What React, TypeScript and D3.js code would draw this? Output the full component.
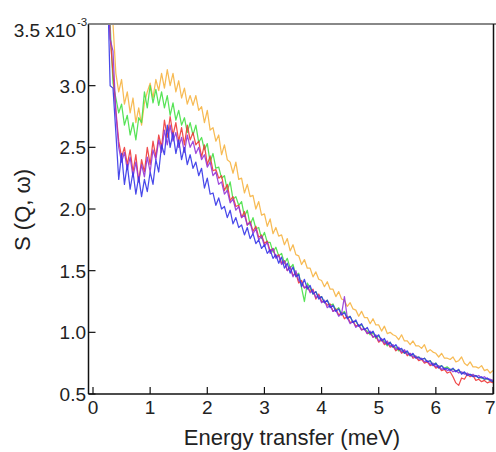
import React, { useRef, useEffect } from "react";
import * as d3 from "d3";

// energy grid (meV)
const energy = [
  0.25, 0.3, 0.35, 0.4, 0.45, 0.5, 0.55, 0.6, 0.65, 0.7,
  0.75, 0.8, 0.85, 0.9, 0.95, 1.0, 1.05, 1.1, 1.15, 1.2,
  1.25, 1.3, 1.35, 1.4, 1.45, 1.5, 1.55, 1.6, 1.65, 1.7,
  1.75, 1.8, 1.85, 1.9, 1.95, 2.0, 2.05, 2.1, 2.15, 2.2,
  2.25, 2.3, 2.35, 2.4, 2.45, 2.5, 2.55, 2.6, 2.65, 2.7,
  2.75, 2.8, 2.85, 2.9, 2.95, 3.0, 3.05, 3.1, 3.15, 3.2,
  3.25, 3.3, 3.35, 3.4, 3.45, 3.5, 3.55, 3.6, 3.65, 3.7,
  3.75, 3.8, 3.85, 3.9, 3.95, 4.0, 4.05, 4.1, 4.15, 4.2,
  4.25, 4.3, 4.35, 4.4, 4.45, 4.5, 4.55, 4.6, 4.65, 4.7,
  4.75, 4.8, 4.85, 4.9, 4.95, 5.0, 5.05, 5.1, 5.15, 5.2,
  5.25, 5.3, 5.35, 5.4, 5.45, 5.5, 5.55, 5.6, 5.65, 5.7,
  5.75, 5.8, 5.85, 5.9, 5.95, 6.0, 6.05, 6.1, 6.15, 6.2,
  6.25, 6.3, 6.35, 6.4, 6.45, 6.5, 6.55, 6.6, 6.65, 6.7,
  6.75, 6.8, 6.85, 6.9, 6.95, 7.0,
];

// S(Q,w) in units of 1e-3
const orange = [
  4.3, 4.0, 3.5, 3.1, 2.95, 3.05, 2.85, 2.95, 2.78, 2.9,
  2.7, 2.82, 2.68, 2.86, 2.95, 3.02, 2.9, 3.05, 2.96, 3.1,
  2.98, 3.13, 3.0, 3.1, 2.95, 3.04, 2.9, 2.98, 2.85, 2.92,
  2.84, 2.92, 2.8, 2.83, 2.7, 2.8, 2.64, 2.66, 2.55, 2.6,
  2.44, 2.52, 2.4, 2.38, 2.29, 2.38, 2.24, 2.25, 2.13, 2.2,
  2.1, 2.11, 2.0, 2.06, 1.95, 1.96, 1.86, 1.92, 1.8, 1.85,
  1.78, 1.79, 1.71, 1.76, 1.66, 1.71, 1.63, 1.62, 1.55, 1.59,
  1.52, 1.52, 1.45, 1.49, 1.43, 1.42, 1.37, 1.41, 1.35, 1.35,
  1.29, 1.33, 1.27, 1.26, 1.21, 1.24, 1.19, 1.18, 1.13, 1.17,
  1.12, 1.12, 1.07, 1.11, 1.06, 1.06, 1.01, 1.05, 0.99, 1.0,
  0.98, 0.97, 0.94, 0.98, 0.93, 0.93, 0.9, 0.93, 0.89, 0.89,
  0.87, 0.9, 0.84, 0.86, 0.84, 0.83, 0.8, 0.83, 0.79, 0.79,
  0.78, 0.8, 0.76, 0.77, 0.8, 0.75, 0.73, 0.76, 0.72, 0.72,
  0.71, 0.73, 0.69, 0.7, 0.67, 0.69,
];

const green = [
  4.0, 3.5, 3.02, 2.9, 2.78, 2.85, 2.68, 2.76, 2.6, 2.7,
  2.56, 2.74, 2.7, 2.95, 2.82, 3.0, 2.86, 2.97, 2.84, 2.95,
  2.82, 2.92, 2.76, 2.86, 2.72, 2.8, 2.68, 2.74, 2.62, 2.7,
  2.6, 2.68, 2.54, 2.58, 2.48, 2.53, 2.38, 2.45, 2.33, 2.34,
  2.25, 2.27, 2.15, 2.22, 2.08, 2.1, 2.03, 2.06, 1.94, 1.99,
  1.87, 1.93, 1.84, 1.85, 1.76, 1.81, 1.73, 1.73, 1.65, 1.69,
  1.62, 1.64, 1.56, 1.6, 1.52, 1.55, 1.46, 1.48, 1.36, 1.25,
  1.4, 1.36, 1.31, 1.33, 1.28, 1.29, 1.24, 1.26, 1.22, 1.23,
  1.18, 1.2, 1.15, 1.17, 1.12, 1.13, 1.08, 1.09, 1.05, 1.06,
  1.03, 1.01, 0.98, 1.0, 0.95, 0.97, 0.94, 0.93, 0.89, 0.92,
  0.88, 0.88, 0.85, 0.86, 0.83, 0.84, 0.81, 0.82, 0.8, 0.8,
  0.78, 0.79, 0.76, 0.77, 0.74, 0.75, 0.72, 0.73, 0.71, 0.72,
  0.7, 0.7, 0.69, 0.69, 0.67, 0.67, 0.66, 0.66, 0.65, 0.65,
  0.63, 0.63, 0.62, 0.62, 0.61, 0.6,
];

const red = [
  4.0, 3.4, 3.1, 2.8, 2.55, 2.42, 2.5, 2.36, 2.48, 2.3,
  2.44, 2.22, 2.4, 2.3, 2.5, 2.36, 2.55, 2.42, 2.6, 2.5,
  2.72, 2.58, 2.75, 2.6, 2.7, 2.55, 2.66, 2.52, 2.68, 2.56,
  2.62, 2.52, 2.55, 2.42, 2.52, 2.36, 2.43, 2.31, 2.32, 2.25,
  2.27, 2.15, 2.2, 2.07, 2.1, 2.02, 2.03, 1.93, 1.98, 1.87,
  1.9, 1.82, 1.86, 1.77, 1.79, 1.72, 1.74, 1.66, 1.68, 1.61,
  1.63, 1.56, 1.58, 1.5, 1.53, 1.46, 1.48, 1.4, 1.42, 1.36,
  1.37, 1.33, 1.35, 1.27, 1.31, 1.25, 1.25, 1.22, 1.23, 1.17,
  1.19, 1.14, 1.16, 1.11, 1.13, 1.08, 1.09, 1.05, 1.06, 1.02,
  1.03, 0.99, 1.0, 0.96, 0.97, 0.92, 0.94, 0.9, 0.92, 0.88,
  0.89, 0.85, 0.87, 0.83, 0.85, 0.81, 0.83, 0.79, 0.8, 0.77,
  0.78, 0.75, 0.76, 0.73, 0.74, 0.71, 0.72, 0.69, 0.7, 0.67,
  0.68, 0.64, 0.59, 0.57, 0.63, 0.62, 0.66, 0.64, 0.65, 0.61,
  0.62, 0.6, 0.61, 0.59, 0.6, 0.59,
];

const purple = [
  4.0, 3.38, 3.28, 2.78, 2.5, 2.38, 2.46, 2.32, 2.42, 2.26,
  2.38, 2.22, 2.36, 2.26, 2.42, 2.3, 2.48, 2.4, 2.56, 2.46,
  2.64, 2.52, 2.68, 2.55, 2.62, 2.5, 2.58, 2.46, 2.6, 2.5,
  2.55, 2.45, 2.5, 2.4, 2.44, 2.34, 2.38, 2.27, 2.3, 2.2,
  2.22, 2.12, 2.15, 2.05, 2.08, 1.99, 2.02, 1.93, 1.95, 1.87,
  1.89, 1.8, 1.84, 1.75, 1.78, 1.7, 1.73, 1.64, 1.68, 1.6,
  1.62, 1.55, 1.58, 1.5, 1.53, 1.45, 1.5, 1.42, 1.4, 1.36,
  1.38, 1.32, 1.34, 1.28, 1.3, 1.24, 1.26, 1.2, 1.22, 1.17,
  1.18, 1.13, 1.15, 1.29, 1.12, 1.07, 1.09, 1.04, 1.06, 1.02,
  1.03, 0.99, 1.01, 0.96, 0.98, 0.93, 0.95, 0.91, 0.93, 0.89,
  0.9, 0.86, 0.88, 0.84, 0.86, 0.82, 0.83, 0.8, 0.81, 0.78,
  0.79, 0.76, 0.77, 0.74, 0.75, 0.72, 0.73, 0.7, 0.71, 0.69,
  0.7, 0.68, 0.69, 0.67, 0.68, 0.66, 0.67, 0.65, 0.66, 0.64,
  0.65, 0.63, 0.64, 0.62, 0.62, 0.61,
];

const blue = [
  3.9, 3.0, 2.98, 2.62, 2.24, 2.45, 2.2, 2.36, 2.16, 2.3,
  2.12, 2.26, 2.1, 2.24, 2.14, 2.3, 2.2, 2.4, 2.3, 2.52,
  2.44, 2.68, 2.5, 2.62, 2.45, 2.56, 2.4, 2.5, 2.36, 2.44,
  2.33, 2.38, 2.27, 2.33, 2.17, 2.25, 2.12, 2.13, 2.03, 2.09,
  2.0, 2.02, 1.93, 1.99, 1.88, 1.93, 1.85, 1.87, 1.79, 1.85,
  1.76, 1.8, 1.72, 1.75, 1.68, 1.71, 1.64, 1.67, 1.6, 1.63,
  1.56, 1.61, 1.52, 1.56, 1.48, 1.53, 1.45, 1.47, 1.37, 1.43,
  1.35, 1.38, 1.31, 1.33, 1.27, 1.29, 1.24, 1.26, 1.2, 1.22,
  1.17, 1.19, 1.14, 1.16, 1.11, 1.13, 1.08, 1.1, 1.05, 1.07,
  1.02, 1.04, 0.99, 1.01, 0.96, 0.98, 0.93, 0.95, 0.9, 0.92,
  0.88, 0.9, 0.86, 0.87, 0.83, 0.85, 0.81, 0.83, 0.79, 0.8,
  0.78, 0.79, 0.76, 0.77, 0.73, 0.75, 0.71, 0.73, 0.7, 0.71,
  0.69, 0.71, 0.68, 0.7, 0.66, 0.68, 0.65, 0.66, 0.64, 0.65,
  0.63, 0.64, 0.62, 0.63, 0.61, 0.6,
];

const seriesList = [
  { name: "orange", values: orange, color: "#f6b443" },
  { name: "green", values: green, color: "#45e045" },
  { name: "red", values: red, color: "#ee3a3a" },
  { name: "purple", values: purple, color: "#9236d8" },
  { name: "blue", values: blue, color: "#3535e8" },
];

const xTicks = [0, 1, 2, 3, 4, 5, 6, 7];
const yTicks = [0.5, 1.0, 1.5, 2.0, 2.5, 3.0, 3.5];

const App = () => {
  const svgRef = useRef<SVGSVGElement>(null);

  useEffect(() => {
    const svg = d3.select(svgRef.current);
    svg.selectAll("*").remove();

    const width = 496;
    const height = 452;
    const left = 88.5;
    const right = 493.5;
    const top = 24;
    const bottom = 394;
    const font = "'Liberation Sans', Arial, sans-serif";

    const x = d3.scaleLinear().domain([0, 7]).range([93, 493]);
    const y = d3.scaleLinear().domain([0.5, 3.5]).range([bottom, top]);

    svg.attr("width", width).attr("height", height);

    svg.append("defs")
      .append("clipPath")
      .attr("id", "plot-clip")
      .append("rect")
      .attr("x", left)
      .attr("y", top)
      .attr("width", right - left)
      .attr("height", bottom - top);

    const line = d3.line<number>()
      .x((d, i) => x(energy[i]))
      .y(d => y(d));

    const plot = svg.append("g").attr("clip-path", "url(#plot-clip)");
    seriesList.forEach(s => {
      plot.append("path")
        .datum(s.values)
        .attr("fill", "none")
        .attr("stroke", s.color)
        .attr("stroke-width", 1.25)
        .attr("stroke-opacity", 0.9)
        .attr("stroke-linejoin", "round")
        .attr("d", line);
    });

    // frame
    svg.append("line")
      .attr("x1", left).attr("x2", width)
      .attr("y1", top).attr("y2", top)
      .attr("stroke", "#888").attr("stroke-width", 2);
    svg.append("line")
      .attr("x1", left).attr("x2", left)
      .attr("y1", top).attr("y2", bottom)
      .attr("stroke", "#111").attr("stroke-width", 1.5);
    svg.append("line")
      .attr("x1", right).attr("x2", right)
      .attr("y1", top).attr("y2", bottom)
      .attr("stroke", "#111").attr("stroke-width", 1.5);
    svg.append("line")
      .attr("x1", left).attr("x2", right)
      .attr("y1", bottom).attr("y2", bottom)
      .attr("stroke", "#111").attr("stroke-width", 1.5);

    // y axis: ticks point inward
    const yAxis = svg.append("g");
    yAxis.selectAll("line")
      .data(yTicks)
      .join("line")
      .attr("x1", left).attr("x2", left + 7)
      .attr("y1", d => y(d)).attr("y2", d => y(d))
      .attr("stroke", d => (d === 3.5 ? "#888" : "#111"))
      .attr("stroke-width", 1.2);
    yAxis.selectAll("text")
      .data(yTicks.filter(d => d !== 3.5))
      .join("text")
      .attr("x", 86)
      .attr("y", d => y(d) + 7)
      .attr("text-anchor", "end")
      .attr("font-family", font)
      .attr("font-size", 19)
      .attr("fill", "#222")
      .text(d => d.toFixed(1));
    yAxis.append("text")
      .attr("x", 76)
      .attr("y", 37)
      .attr("text-anchor", "end")
      .attr("font-family", font)
      .attr("font-size", 19)
      .attr("fill", "#222")
      .text("3.5 x10");
    yAxis.append("text")
      .attr("x", 77)
      .attr("y", 26)
      .attr("font-family", font)
      .attr("font-size", 11.5)
      .attr("fill", "#222")
      .text("-3");

    // x axis: ticks point inward
    const xAxis = svg.append("g");
    xAxis.selectAll("line")
      .data(xTicks)
      .join("line")
      .attr("x1", d => x(d)).attr("x2", d => x(d))
      .attr("y1", bottom - 7).attr("y2", bottom)
      .attr("stroke", "#111")
      .attr("stroke-width", 1.2);
    // last label kept inside the page edge
    xAxis.selectAll("text")
      .data(xTicks)
      .join("text")
      .attr("x", d => (d === 7 ? width - 0.5 : x(d)))
      .attr("y", 414)
      .attr("text-anchor", d => (d === 7 ? "end" : "middle"))
      .attr("font-family", font)
      .attr("font-size", 19)
      .attr("fill", "#222")
      .text(d => d);

    svg.append("text")
      .attr("x", 292)
      .attr("y", 445)
      .attr("text-anchor", "middle")
      .attr("font-family", font)
      .attr("font-size", 22)
      .attr("fill", "#222")
      .text("Energy transfer (meV)");

    svg.append("text")
      .attr("transform", `translate(30,210) rotate(-90)`)
      .attr("text-anchor", "middle")
      .attr("font-family", font)
      .attr("font-size", 22)
      .attr("fill", "#222")
      .text("S (Q, \u03c9)");
  }, []);

  return (
    <div style={{ position: "absolute", left: 0, top: 0 }}>
      <svg ref={svgRef} style={{ display: "block" }}></svg>
    </div>
  );
};

export default App;
